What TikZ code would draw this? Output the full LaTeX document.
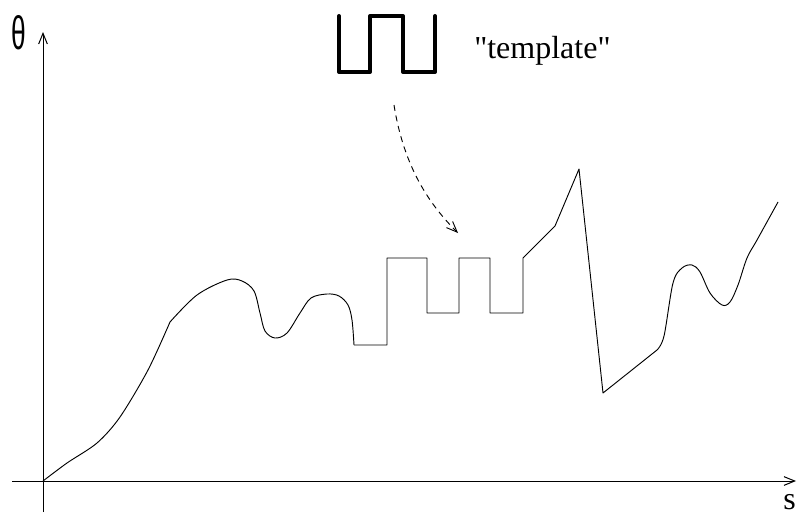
\documentclass[tikz,border=0pt]{standalone}
\usepackage{fontspec}
\setmainfont{Liberation Serif}
\newfontfamily\thetafont{Liberation Sans}
\usetikzlibrary{arrows.meta}
\begin{document}
\begin{tikzpicture}[x=0.75pt,y=-0.75pt,
  axis/.style={line width=0.75pt,-{Straight Barb[length=8pt,width=6.5pt,line width=0.75pt]}},
  curve/.style={line width=0.7pt,line join=round},
  tmpl/.style={line width=3pt,line join=round,line cap=round},
  hint/.style={line width=0.7pt,dash pattern=on 4.5pt off 3.5pt,-{Straight Barb[length=8pt,width=6.5pt,line width=0.7pt]}},
  lbl/.style={font=\fontsize{24}{28}\selectfont,inner sep=0pt}]
\useasboundingbox (0,0) rectangle (798,514);
% axes
\coordinate (xs) at (12,481);
\coordinate (xe) at (796,481);
\coordinate (ys) at (43,512);
\coordinate (ye) at (43,32);
\draw[axis] (xs) -- (xe);
\draw[axis] (ys) -- (ye);
\node[lbl,anchor=center] (theta) at (19,33) {\resizebox{11pt}{25.5pt}{\thetafont θ}};
\node[lbl,anchor=base east] (s) at (796,509) {s};
% signal
\draw[curve] plot[smooth,tension=0.5] coordinates {(43,481) (67,463) (97,443) (120,417) (148,370) (170,322)};
\draw[curve] plot[smooth,tension=0.55] coordinates {(170,322) (197,295) (227,280) (242,281) (254,291) (260,313) (265,331) (275,338) (287,333) (300,313) (311,298) (327,294) (339,296) (348,305) (352,320) (354,345)};
\draw[curve] (354,345) -- (387,345) -- (387,258) -- (427,258) -- (427,313) -- (459,313) -- (459,258) -- (490,258) -- (490,313) -- (523,313) -- (523,258) -- (555,226) -- (579,169) -- (603,393) -- (657,350);
\draw[curve] plot[smooth,tension=0.55] coordinates {(657,350) (664,336) (673,283) (682,268) (692,265) (700,272) (710,293) (722,305) (730,302) (738,285) (747,258) (757,240) (778,202)};
% template
\draw[tmpl] (339,16) -- (339,72) -- (370,72) -- (370,16) -- (403,16) -- (403,72) -- (435,72) -- (435,16);
\node[lbl,anchor=base west] (tlabel) at (474,58) {\textquotedbl template\textquotedbl};
% dashed hint arrow
\coordinate (hs) at (394,105);
\coordinate (he) at (458,233);
\draw[hint] (hs) .. controls (404,168) and (430,205) .. (he);
\end{tikzpicture}
\end{document}
